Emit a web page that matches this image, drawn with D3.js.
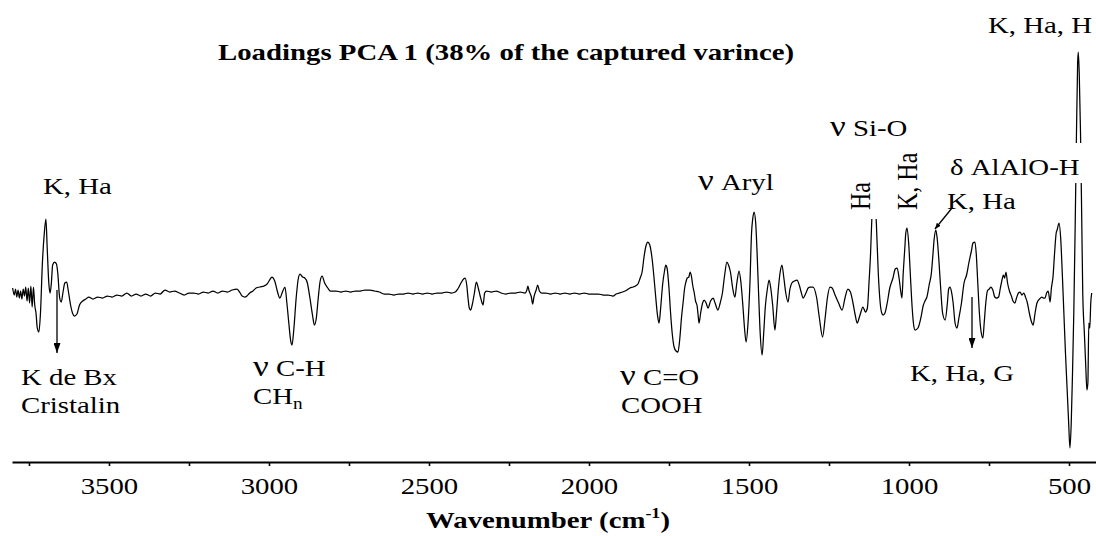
<!DOCTYPE html>
<html>
<head>
<meta charset="utf-8">
<script src="https://cdn.jsdelivr.net/npm/d3@7/dist/d3.min.js"></script>
<style>
  html, body { margin: 0; padding: 0; background: #fff; }
  svg { display: block; }
  text { font-family: "Liberation Serif", "Times New Roman", serif; fill: #000; }
</style>
</head>
<body>
<svg id="chart" width="1096" height="536"></svg>
<script>
// PCA 1 loadings along the FTIR spectrum (wavenumber in cm-1, descending)
const wavenumbers = [
  3801,3796,3792,3788,3784,3780,3776,3772,3768,3764,3760,3756,3752,3748,3744,3740,3736,3732,3728,3724,
  3719,3714,3708,3702,3697,3693,3688,3684,3680,3676,3670,3664,3660,3654,3649,3644,3638,3632,3627,3620,
  3614,3608,3600,3592,3582,3572,3563,3550,3535,3520,3505,3490,3475,3460,3444,3430,3415,3400,3385,3370,
  3355,3340,3325,3310,3295,3280,3265,3250,3235,3220,3205,3190,3175,3160,3145,3130,3115,3100,3090,3084,
  3075,3069,3060,3050,3040,3028,3015,3006,2998,2991,2982,2974,2966,2958,2950,2944,2938,2932,2928,2922,
  2915,2908,2903,2895,2888,2880,2872,2864,2858,2852,2846,2840,2834,2826,2816,2808,2800,2790,2775,2760,
  2745,2730,2715,2700,2684,2670,2655,2640,2625,2610,2595,2580,2565,2550,2535,2520,2505,2490,2475,2460,
  2445,2430,2418,2410,2400,2392,2387,2382,2378,2374,2370,2365,2358,2352,2346,2340,2334,2331,2326,2320,
  2305,2290,2275,2260,2245,2230,2215,2200,2194,2191,2187,2180,2176,2172,2165,2160,2155,2148,2135,2120,
  2105,2090,2075,2060,2045,2030,2015,2000,1985,1970,1955,1940,1925,1915,1905,1895,1881,1872,1862,1855,
  1847,1840,1834,1828,1822,1816,1810,1803,1797,1792,1786,1781,1776,1770,1764,1760,1756,1750,1745,1740,
  1734,1728,1722,1716,1711,1706,1701,1697,1693,1688,1684,1680,1676,1671,1667,1662,1659,1656,1651,1645,
  1640,1634,1628,1620,1612,1606,1597,1590,1583,1576,1569,1564,1558,1551,1544,1538,1531,1525,1519,1514,
  1509,1503,1497,1492,1488,1484,1479,1475,1470,1465,1459,1454,1449,1443,1437,1432,1426,1419,1414,1408,
  1402,1397,1391,1385,1378,1372,1366,1358,1350,1342,1337,1331,1322,1315,1309,1300,1289,1280,1270,1262,
  1255,1247,1240,1231,1220,1209,1200,1191,1183,1175,1168,1162,1153,1144,1136,1130,1125,1120,1116,1112,
  1106,1102,1096,1090,1084,1081,1075,1068,1060,1050,1043,1037,1031,1025,1022,1018,1013,1010,1006,1001,
  996,990,985,981,972,963,955,950,944,937,930,926,921,916,912,906,900,895,887,880,
  876,872,867,862,856,850,844,836,828,820,813,805,800,794,790,785,780,775,769,765,
  760,755,749,744,738,732,726,720,715,710,705,701,697,692,686,680,675,669,664,658,
  653,647,641,636,630,624,618,612,606,600,592,585,580,575,570,565,559,555,550,545,
  540,537,531,526,521,516,511,506,501,497,493,489,485,481,477,473,471,468,464,460,
  457,452,448,444,441,438,435,432,429
];
const loadings = [
  0.005,-0.002,0.004,-0.004,0.003,-0.005,0.002,-0.006,0.004,-0.003,0.006,-0.008,0.005,-0.010,0.007,-0.014,0.006,-0.012,-0.020,-0.035,
  -0.039,-0.020,0.030,0.060,0.074,0.045,0.010,0.000,0.010,0.028,0.031,0.029,0.020,-0.005,-0.009,0.000,0.010,0.011,0.002,-0.012,
  -0.020,-0.023,-0.021,-0.012,-0.008,-0.006,-0.004,-0.006,-0.004,-0.005,-0.003,-0.004,-0.002,-0.003,0.000,-0.003,-0.001,-0.003,-0.001,-0.003,
  0.000,-0.001,0.003,0.001,0.002,0.000,-0.002,0.000,0.000,-0.001,0.001,0.000,0.002,0.000,0.002,0.001,0.003,0.004,0.000,-0.003,
  -0.004,-0.003,0.000,0.002,0.005,0.006,0.007,0.009,0.013,0.016,0.012,0.002,-0.005,0.001,0.006,-0.010,-0.030,-0.048,-0.052,-0.035,
  -0.005,0.015,0.019,0.016,0.015,0.010,-0.005,-0.022,-0.032,-0.025,-0.005,0.012,0.017,0.010,0.005,0.002,0.002,0.002,0.001,0.002,
  0.001,0.002,0.002,0.003,0.003,0.002,0.001,-0.001,-0.001,-0.002,-0.001,-0.001,0.000,-0.001,0.000,-0.001,0.000,-0.001,0.000,0.000,
  0.001,0.000,0.001,0.004,0.010,0.014,0.015,0.008,-0.005,-0.015,-0.017,-0.012,0.000,0.011,0.005,-0.003,-0.010,-0.012,0.000,0.002,
  0.001,0.002,0.000,-0.001,0.000,0.000,0.001,0.000,0.003,0.007,0.002,-0.004,-0.011,-0.004,0.003,0.008,0.002,0.000,0.000,-0.001,
  0.000,-0.001,0.000,-0.001,0.000,-0.001,0.000,-0.001,-0.001,-0.001,-0.002,-0.002,-0.003,-0.001,0.000,0.001,0.003,0.005,0.006,0.007,
  0.009,0.015,0.021,0.036,0.047,0.051,0.048,0.035,0.016,-0.002,-0.022,-0.030,-0.015,0.008,0.022,0.028,0.025,0.005,-0.020,-0.040,
  -0.054,-0.058,-0.059,-0.045,-0.025,-0.010,0.005,0.011,0.015,0.016,0.021,0.017,0.008,0.000,-0.008,-0.013,-0.022,-0.030,-0.020,-0.010,
  -0.007,-0.010,-0.015,-0.008,-0.005,-0.010,-0.017,-0.010,0.000,0.018,0.031,0.028,0.021,0.005,-0.004,0.010,0.022,0.010,-0.013,-0.035,
  -0.049,-0.030,0.010,0.060,0.075,0.081,0.070,0.043,0.000,-0.040,-0.062,-0.040,-0.014,0.003,0.013,0.005,-0.012,-0.037,-0.020,0.005,
  0.022,0.028,0.015,0.000,-0.009,0.004,0.010,0.012,0.013,0.007,0.001,-0.005,0.000,0.005,0.006,0.006,-0.004,-0.025,-0.044,-0.025,
  -0.005,0.006,0.005,-0.002,-0.010,-0.017,-0.005,0.004,0.001,-0.010,-0.022,-0.030,-0.022,-0.014,-0.019,-0.015,0.010,0.040,0.075,0.093,
  0.093,0.070,0.020,-0.010,-0.021,-0.022,-0.020,-0.010,0.005,0.015,0.024,0.025,0.015,0.000,-0.005,0.020,0.045,0.060,0.065,0.050,
  0.020,-0.015,-0.033,-0.037,-0.035,-0.025,-0.012,-0.008,-0.004,0.008,0.020,0.035,0.055,0.063,0.055,0.030,0.000,-0.020,-0.027,-0.010,
  0.004,0.006,0.001,-0.010,-0.030,-0.035,-0.025,-0.010,0.010,0.018,0.030,0.042,0.050,0.051,0.040,0.010,-0.020,-0.038,-0.045,-0.030,
  -0.010,0.002,0.004,0.006,0.003,-0.004,-0.005,-0.004,0.004,0.012,0.018,0.015,0.021,0.010,0.002,-0.003,-0.008,-0.010,-0.005,0.000,
  0.001,-0.002,0.000,-0.004,-0.010,-0.020,-0.028,-0.032,-0.020,-0.010,-0.006,-0.004,-0.005,-0.005,0.000,0.002,-0.009,0.005,0.016,0.040,
  0.060,0.063,0.070,0.055,0.020,-0.020,-0.060,-0.095,-0.130,-0.155,-0.130,-0.080,-0.020,0.060,0.150,0.230,0.241,0.220,0.160,0.070,
  0.000,-0.040,-0.070,-0.097,-0.090,-0.030,-0.035,-0.010,0.000
];

// x-axis ticks (every 250 cm-1), labelled every 500 cm-1
const tickValues = [3750,3500,3250,3000,2750,2500,2250,2000,1750,1500,1250,1000,750,500];
const tickLabels = ["","3500","","3000","","2500","","2000","","1500","","1000","","500"];

const titleText = "Loadings PCA 1 (38% of the captured varince)";
const axisTitleText = "Wavenumber (cm";
const axisTitleSup = "-1";
const axisTitleEnd = ")";

// ---- layout ----
const W = 1096, H = 536;
const SX = 1.2;              // horizontal text stretch of the figure
const FONT = 24;
const axisY = 462;

const svg = d3.select("#chart");
svg.append("rect").attr("width", W).attr("height", H).attr("fill", "#fff");

const x = d3.scaleLinear().domain([3803, 415.6]).range([12, 1096]);
const y = d3.scaleLinear().domain([0, 0.1]).range([293, 193]);

const points = wavenumbers.map((w, i) => ({ w, v: loadings[i] }));

// spectrum line
const line = d3.line()
  .x(d => x(d.w))
  .y(d => y(d.v))
  .curve(d3.curveMonotoneX);

svg.append("path")
  .datum(points)
  .attr("d", line)
  .attr("fill", "none")
  .attr("stroke", "#000")
  .attr("stroke-width", 1.25)
  .attr("stroke-linejoin", "round");

// x axis
const axis = d3.axisBottom(x)
  .tickValues(tickValues)
  .tickSize(4)
  .tickSizeOuter(0)
  .tickPadding(8)
  .tickFormat((d, i) => tickLabels[i]);

const gx = svg.append("g")
  .attr("transform", `translate(0,${axisY})`)
  .call(axis);
gx.select(".domain").attr("stroke", "#000").attr("stroke-width", 2);
gx.selectAll(".tick line").attr("stroke", "#000").attr("stroke-width", 1.6);
gx.selectAll(".tick text")
  .attr("font-family", "'Liberation Serif', 'Times New Roman', serif")
  .attr("font-size", FONT)
  .attr("fill", "#000")
  .attr("y", 0).attr("dy", 32)
  .attr("transform", `scale(${SX},1)`);

// text helper: stretched serif text; a leading Greek letter is set larger
function label(txt, px, py, opts = {}) {
  const rot = opts.rotate ? ` rotate(${opts.rotate})` : "";
  const t = svg.append("text")
    .attr("transform", `translate(${px},${py}) scale(${SX},1)${rot}`)
    .attr("font-size", opts.size || FONT)
    .attr("font-weight", opts.bold ? "bold" : "normal")
    .attr("text-anchor", opts.anchor || "start");
  if (opts.greek) {
    t.append("tspan").attr("font-size", 29).text(opts.greek);
    t.append("tspan").text(txt);
  } else {
    t.text(txt);
  }
  return t;
}

// white boxes that interrupt the curve behind some labels
function knockout(x0, y0, w, h) {
  svg.append("rect").attr("x", x0).attr("y", y0).attr("width", w).attr("height", h).attr("fill", "#fff");
}
knockout(945, 143, 140, 40);   // behind δ AlAlO-H
knockout(848, 176, 32, 43);    // behind rotated Ha

// arrow markers
const defs = svg.append("defs");
function marker(id, len, wid) {
  defs.append("marker")
    .attr("id", id)
    .attr("viewBox", "0 0 10 10")
    .attr("refX", 10).attr("refY", 5)
    .attr("markerWidth", len).attr("markerHeight", wid)
    .attr("markerUnits", "userSpaceOnUse")
    .attr("orient", "auto")
    .attr("preserveAspectRatio", "none")
    .append("path").attr("d", "M0,0 L10,5 L0,10 Z").attr("fill", "#000");
}
marker("head", 10, 7);
marker("headSmall", 6, 5);

function arrow(x1, y1, x2, y2, head) {
  svg.append("line")
    .attr("x1", x1).attr("y1", y1).attr("x2", x2).attr("y2", y2)
    .attr("stroke", "#000").attr("stroke-width", 1.3)
    .attr("marker-end", `url(#${head})`);
}

// title and axis title
label(titleText, 506, 60, { bold: true, anchor: "middle" });
const at = label(axisTitleText, 548, 528, { bold: true, anchor: "middle" });
at.append("tspan").attr("dy", -10).attr("font-size", 15).text(axisTitleSup);
at.append("tspan").attr("dy", 10).text(axisTitleEnd);

// band assignments
label("K, Ha", 43, 194);
label("K de Bx", 21, 385);
label("Cristalin", 21, 413);
label(" C-H", 253, 376, { greek: "\u03BD" });
const ch = label("CH", 253, 404);
ch.append("tspan").attr("dy", 5).attr("font-size", 16).text("n");
label(" C=O", 620, 385, { greek: "\u03BD" });
label("COOH", 621, 413);
label(" Aryl", 698, 190, { greek: "\u03BD" });
label(" Si-O", 830, 136, { greek: "\u03BD" });
label("Ha", 870, 210, { rotate: -90 });
label("K, Ha", 917, 210, { rotate: -90 });
label("\u03B4 AlAlO-H", 950, 175);
label("K, Ha", 947, 209);
label("K, Ha, G", 910, 381);
label("K, Ha, H", 988, 33);

arrow(57, 290, 57, 353, "head");
arrow(972, 297, 972, 348, "head");
arrow(952, 208, 935, 229, "headSmall");
</script>
</body>
</html>
